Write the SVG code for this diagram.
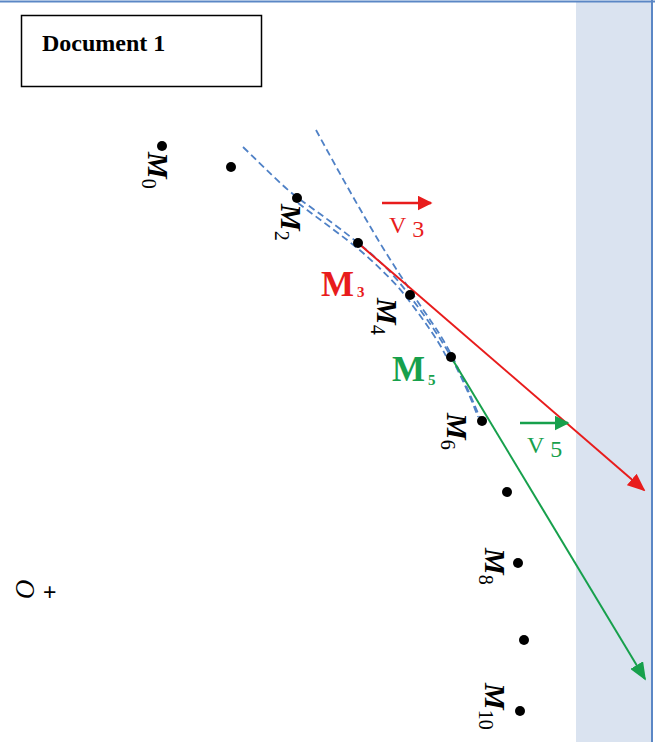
<svg xmlns="http://www.w3.org/2000/svg" width="655" height="742" viewBox="0 0 655 742">
<defs>
<style>
.pt{fill:#000}
.lbl{font-family:"Liberation Serif",serif;font-style:italic;font-weight:bold;font-size:30px;fill:#000}
.sub{font-size:20px;font-style:normal;font-weight:normal}
.dash{fill:none;stroke:#4f81c6;stroke-width:1.8;stroke-dasharray:7,4}
</style>
<marker id="ar" viewBox="0 0 10 10" refX="9" refY="5" markerWidth="9" markerHeight="7.5" markerUnits="strokeWidth" orient="auto" preserveAspectRatio="none"><path d="M0,0 L10,5 L0,10 z" fill="#e81c1c"/></marker>
<marker id="ag" viewBox="0 0 10 10" refX="9" refY="5" markerWidth="9" markerHeight="7.5" markerUnits="strokeWidth" orient="auto" preserveAspectRatio="none"><path d="M0,0 L10,5 L0,10 z" fill="#17a04c"/></marker>
<marker id="ar2" viewBox="0 0 10 10" refX="9" refY="5" markerWidth="6" markerHeight="6" markerUnits="strokeWidth" orient="auto"><path d="M0,0 L10,5 L0,10 z" fill="#e81c1c"/></marker>
<marker id="ag2" viewBox="0 0 10 10" refX="9" refY="5" markerWidth="6" markerHeight="6" markerUnits="strokeWidth" orient="auto"><path d="M0,0 L10,5 L0,10 z" fill="#17a04c"/></marker>
</defs>
<rect x="0" y="0" width="655" height="742" fill="#fff"/>
<rect x="576" y="2" width="76" height="740" fill="#dae3f0"/>
<line x1="0" y1="1.5" x2="655" y2="1.5" stroke="#5b87c5" stroke-width="2"/>
<line x1="652" y1="0" x2="652" y2="742" stroke="#5b87c5" stroke-width="2"/>
<g id="title">
<rect x="21.5" y="15.5" width="240" height="71" fill="#fff" stroke="#000" stroke-width="1.5"/>
<text x="42" y="51" font-family="Liberation Serif,serif" font-weight="bold" font-size="24">Document 1</text>
</g>
<g id="origin">
<text transform="translate(16,579) rotate(90)" font-family="Liberation Serif,serif" font-style="italic" font-size="27">O</text>
<text x="43" y="600" font-family="Liberation Sans,sans-serif" font-size="23">+</text>
</g>
<g id="connectors">
<path class="dash" d="M243,147 C265,168 282,186 298,198 C320,214 340,228 358,243 C380,260 397,278 409,295 C425,316 440,337 451,357 C462,378 471,398 478,417"/>
<path class="dash" d="M298,203 C320,220 343,236 362,252 C380,268 398,285 410,302 C425,322 438,340 446,356"/>
<path class="dash" d="M316,130 C335,165 360,210 380,243 C400,276 420,305 437,330 C450,350 462,375 480,418"/>
<line x1="358" y1="243" x2="644" y2="490" stroke="#e81c1c" stroke-width="2" marker-end="url(#ar)"/>
<line x1="451" y1="357" x2="645" y2="679" stroke="#17a04c" stroke-width="2" marker-end="url(#ag)"/>
<line x1="382" y1="203" x2="431" y2="203" stroke="#e81c1c" stroke-width="2.5" marker-end="url(#ar2)"/>
<line x1="520" y1="423" x2="568" y2="423" stroke="#17a04c" stroke-width="2.5" marker-end="url(#ag2)"/>
</g>
<g id="M0"><circle class="pt" cx="162" cy="146" r="5"/><text class="lbl" transform="translate(148,152) rotate(90)">M<tspan class="sub" dy="6">0</tspan></text></g>
<g id="M1"><circle class="pt" cx="231" cy="167" r="5"/></g>
<g id="M2"><circle class="pt" cx="297" cy="198" r="5"/><text class="lbl" transform="translate(281,204) rotate(90)">M<tspan class="sub" dy="6">2</tspan></text></g>
<g id="M3"><circle class="pt" cx="358" cy="243" r="5"/><text x="321" y="296" font-family="Liberation Serif,serif" font-weight="bold" font-size="35" fill="#e81c1c">M<tspan font-size="15" dx="3" dy="1">3</tspan></text></g>
<g id="M4"><circle class="pt" cx="410" cy="295" r="5"/><text class="lbl" transform="translate(377,298) rotate(90)">M<tspan class="sub" dy="6">4</tspan></text></g>
<g id="M5"><circle class="pt" cx="451" cy="357" r="5"/><text x="392" y="381" font-family="Liberation Serif,serif" font-weight="bold" font-size="35" fill="#17a04c">M<tspan font-size="15" dx="3" dy="4">5</tspan></text></g>
<g id="M6"><circle class="pt" cx="482" cy="421" r="5"/><text class="lbl" transform="translate(447,413) rotate(90)">M<tspan class="sub" dy="6">6</tspan></text></g>
<g id="M7"><circle class="pt" cx="507" cy="492" r="5"/></g>
<g id="M8"><circle class="pt" cx="518" cy="563" r="5"/><text class="lbl" transform="translate(485,548) rotate(90)">M<tspan class="sub" dy="6">8</tspan></text></g>
<g id="M9"><circle class="pt" cx="524" cy="640" r="5"/></g>
<g id="M10"><circle class="pt" cx="520" cy="711" r="5"/><text class="lbl" transform="translate(485,683) rotate(90)">M<tspan class="sub" dy="6">10</tspan></text></g>
<g id="V3"><text x="389" y="233" font-family="Liberation Serif,serif" font-size="24" fill="#e81c1c">V<tspan dx="6" dy="4">3</tspan></text></g>
<g id="V5"><text x="527" y="453" font-family="Liberation Serif,serif" font-size="24" fill="#17a04c">V<tspan dx="6" dy="4">5</tspan></text></g>
</svg>
